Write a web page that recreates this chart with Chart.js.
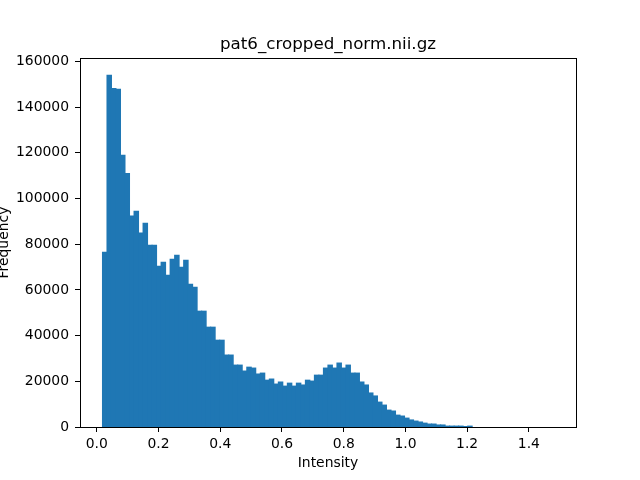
<!DOCTYPE html>
<html><head><meta charset="utf-8">
<script src="https://cdn.jsdelivr.net/npm/chart.js@4"></script>
<style>html,body{margin:0;padding:0;background:#fff}</style>
</head><body>
<canvas id="c" width="640" height="480"></canvas>
<script>
const chartTitle = 'pat6_cropped_norm.nii.gz';
const xLabel = 'Intensity';
const yLabel = 'Frequency';
const binStart = 0.0183;
const binWidth = 0.01461;
const counts = [
  76500, 153900, 148200, 147800, 118900, 111000, 92400, 94400, 84900, 89200,
  79600, 79600, 70400, 72100, 66400, 73400, 75200, 69900, 73000, 62500,
  61200, 50700, 50700, 43700, 43700, 38000, 38000, 31500, 31500, 27100,
  27100, 24500, 26200, 25800, 23200, 23600, 20500, 21000, 18800, 19700,
  17900, 19200, 17900, 19200, 18400, 20500, 20100, 22700, 22700, 25800,
  27100, 25800, 28000, 25800, 27100, 23600, 23600, 19700, 18400, 14900,
  13600, 10900, 9600, 7400, 7000, 5200, 4800, 3900, 3100, 2600,
  2200, 1700, 1300, 1300, 900, 900, 400, 400, 400, 400,
  100, 400, 0, 0, 0, 0, 0, 0, 0, 0,
  0, 0, 0, 0, 0, 0, 0, 0, 0, 0
];
const xTicks = [0.0, 0.2, 0.4, 0.6, 0.8, 1.0, 1.2, 1.4];
const yTicks = [0, 20000, 40000, 60000, 80000, 100000, 120000, 140000, 160000];

const points = counts.map((c, i) => ({ x: binStart + (i + 0.5) * binWidth, y: c }));
const FONT = 'DejaVu Sans';

const framePlugin = {
  id: 'frame',
  afterDraw(chart) {
    const { ctx, chartArea: a } = chart;
    ctx.save();
    ctx.strokeStyle = '#000';
    ctx.lineWidth = 1;
    ctx.strokeRect(Math.round(a.left) + 0.5, Math.round(a.top) + 0.5,
      Math.round(a.right - a.left), Math.round(a.bottom - a.top));
    ctx.fillStyle = '#000';
    ctx.font = '16.7px "' + FONT + '"';
    ctx.textAlign = 'center';
    ctx.textBaseline = 'middle';
    ctx.fillText(chartTitle, (a.left + a.right) / 2, 45);
    ctx.restore();
  }
};

new Chart(document.getElementById('c'), {
  type: 'bar',
  data: {
    datasets: [{
      data: points,
      backgroundColor: '#1f77b4',
      borderWidth: 0,
      barPercentage: 1,
      categoryPercentage: 1,
      inflateAmount: ctx => (ctx.raw && ctx.raw.y > 0) ? 0.5 : 0
    }]
  },
  options: {
    responsive: false,
    animation: false,
    devicePixelRatio: 1,
    layout: { padding: { top: 58, right: 64, bottom: 0, left: 0 } },
    plugins: {
      legend: { display: false },
      tooltip: { enabled: false },
      title: { display: false }
    },
    scales: {
      x: {
        type: 'linear',
        offset: false,
        min: -0.0545,
        max: 1.5527,
        afterBuildTicks: s => { s.ticks = xTicks.map(v => ({ value: v })); },
        afterFit: s => { s.height = 53; },
        ticks: {
          callback: v => Number(v).toFixed(1),
          color: '#000',
          font: { family: FONT, size: 13.9 },
          padding: 4,
          maxRotation: 0,
          autoSkip: false
        },
        grid: { display: true, offset: false, drawOnChartArea: false, drawTicks: true, tickLength: 5, color: '#000', tickColor: '#000' },
        border: { display: false },
        title: {
          display: true, text: xLabel, color: '#000',
          font: { family: FONT, size: 13.9, lineHeight: 1 },
          padding: { top: 0, bottom: 10 }
        }
      },
      y: {
        min: 0,
        max: 161500,
        afterBuildTicks: s => { s.ticks = yTicks.map(v => ({ value: v })); },
        afterFit: s => { s.width = 80; },
        ticks: {
          callback: v => String(v),
          color: '#000',
          font: { family: FONT, size: 13.9 },
          padding: 6
        },
        grid: { display: true, drawOnChartArea: false, drawTicks: true, tickLength: 5, color: '#000', tickColor: '#000' },
        border: { display: false },
        title: {
          display: true, text: yLabel, color: '#000',
          font: { family: FONT, size: 13.9, lineHeight: 1 },
          padding: { top: -2.5, bottom: 0 }
        }
      }
    }
  },
  plugins: [framePlugin]
});
</script>
</body></html>
